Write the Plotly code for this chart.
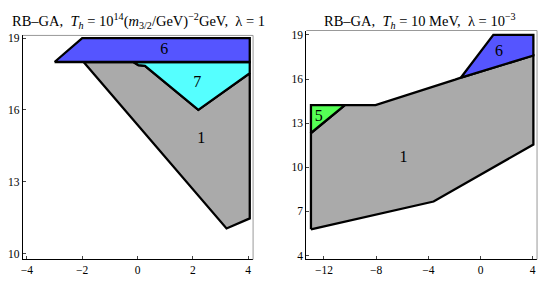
import plotly.graph_objects as go

W, H = 548, 287

# ---- Left panel data (region polygons: x, y vertices) ----
L_gray_x = [-1.95, 3.22, 4.06, 4.06, 2.20, 0.27, 0.03, -0.15]
L_gray_y = [18.00, 11.05, 11.47, 17.53, 16.00, 17.84, 17.87, 18.00]
L_cyan_x = [-0.15, 0.03, 0.27, 2.20, 4.06, 4.06]
L_cyan_y = [18.00, 17.87, 17.84, 16.00, 17.53, 18.00]
L_blue_x = [-3.00, -2.00, 4.06, 4.06]
L_blue_y = [18.00, 19.00, 19.00, 18.00]
L_labels = ["6", "7", "1"]
L_label_x = [0.97, 2.16, 2.31]
L_label_y = [18.51, 17.12, 14.80]
L_xticks = [-4, -2, 0, 2, 4]
L_yticks = [10, 13, 16, 19]

# ---- Right panel data ----
R_gray_x = [-13.0, -13.0, -10.4, -8.05, -1.95, -1.5, 4.05, 4.05, -3.6]
R_gray_y = [5.78, 12.33, 14.23, 14.23, 15.96, 16.1, 17.6, 11.55, 7.67]
R_green_x = [-13.0, -13.0, -10.4]
R_green_y = [12.33, 14.23, 14.23]
R_blue_x = [-1.5, 0.98, 4.05, 4.05]
R_blue_y = [16.1, 19.0, 19.0, 17.6]
R_labels = ["5", "1", "6"]
R_label_x = [-12.4, -5.9, 1.41]
R_label_y = [13.45, 10.65, 17.85]
R_xticks = [-12, -8, -4, 0, 4]
R_yticks = [4, 7, 10, 13, 16, 19]

GRAY = "#aaaaaa"
CYAN = "#55ffff"
BLUE = "#5555ff"
GREEN = "#55ff55"
SERIF = "Liberation Serif, Times New Roman, serif"

fig = go.Figure()


def poly(xs, ys, color, xa, ya):
    fig.add_trace(go.Scatter(
        x=list(xs) + [xs[0]], y=list(ys) + [ys[0]],
        mode="lines", fill="toself", fillcolor=color,
        line=dict(color="black", width=2.3),
        xaxis=xa, yaxis=ya, hoverinfo="skip", showlegend=False))


poly(L_gray_x, L_gray_y, GRAY, "x", "y")
poly(L_cyan_x, L_cyan_y, CYAN, "x", "y")
poly(L_blue_x, L_blue_y, BLUE, "x", "y")
poly(R_gray_x, R_gray_y, GRAY, "x2", "y2")
poly(R_green_x, R_green_y, GREEN, "x2", "y2")
poly(R_blue_x, R_blue_y, BLUE, "x2", "y2")

fig.add_trace(go.Scatter(x=L_label_x, y=L_label_y, text=L_labels, mode="text",
                         textfont=dict(family=SERIF, size=16, color="black"),
                         xaxis="x", yaxis="y", hoverinfo="skip", showlegend=False))
fig.add_trace(go.Scatter(x=R_label_x, y=R_label_y, text=R_labels, mode="text",
                         textfont=dict(family=SERIF, size=16, color="black"),
                         xaxis="x2", yaxis="y2", hoverinfo="skip", showlegend=False))

# panel pixel boxes
Lx0, Lx1, Ly0, Ly1 = 21, 252, 33, 261
Rx0, Rx1, Ry0, Ry1 = 305.5, 537, 28, 261


def dom_x(a, b):
    return [a / W, b / W]


def dom_y(top, bot):
    return [(H - bot) / H, (H - top) / H]


axcommon = dict(showgrid=False, zeroline=False, ticks="inside", ticklen=3,
                tickcolor="#444", showline=True, linecolor="black", linewidth=1.2,
                tickfont=dict(family=SERIF, size=11.5, color="black"), mirror=False)

fig.update_layout(
    width=W, height=H, margin=dict(l=0, r=0, t=0, b=0),
    paper_bgcolor="white", plot_bgcolor="white",
    xaxis=dict(domain=dom_x(Lx0, Lx1), range=[-4.144, 4.18], tickvals=L_xticks,
               anchor="y", **axcommon),
    yaxis=dict(domain=dom_y(Ly0, Ly1), range=[9.755, 19.11], tickvals=L_yticks,
               anchor="x", **axcommon),
    xaxis2=dict(domain=dom_x(Rx0, Rx1), range=[-13.35, 4.33], tickvals=R_xticks,
                anchor="y2", **axcommon),
    yaxis2=dict(domain=dom_y(Ry0, Ry1), range=[3.73, 19.3], tickvals=R_yticks,
                anchor="x2", **axcommon),
)

# light frame lines (top/right)
for (x0, x1, y0, y1) in [(Lx0, Lx1, Ly0, Ly1), (Rx0, Rx1, Ry0, Ry1)]:
    fig.add_shape(type="line", xref="paper", yref="paper",
                  x0=x0 / W, x1=x1 / W, y0=(H - y0) / H, y1=(H - y0) / H,
                  line=dict(color="#999", width=1))
    fig.add_shape(type="line", xref="paper", yref="paper",
                  x0=x1 / W, x1=x1 / W, y0=(H - y0) / H, y1=(H - y1) / H,
                  line=dict(color="#999", width=1))

fig.add_annotation(xref="paper", yref="paper", x=137 / W, y=(H - 18) / H,
                   text="RB–GA,  <i>T<sub>h</sub></i> = 10<sup>14</sup>(<i>m</i><sub>3/2</sub>/GeV)<sup>−2</sup>GeV,  λ = 1",
                   showarrow=False, font=dict(family=SERIF, size=14.5, color="black"),
                   xanchor="center", yanchor="middle")
fig.add_annotation(xref="paper", yref="paper", x=420 / W, y=(H - 18) / H,
                   text="RB–GA,  <i>T<sub>h</sub></i> = 10 MeV,  λ = 10<sup>−3</sup>",
                   showarrow=False, font=dict(family=SERIF, size=14.5, color="black"),
                   xanchor="center", yanchor="middle")

fig.write_html("out.html", config={"displayModeBar": False},
               post_script="document.body.style.margin='0';document.body.style.padding='0';")
